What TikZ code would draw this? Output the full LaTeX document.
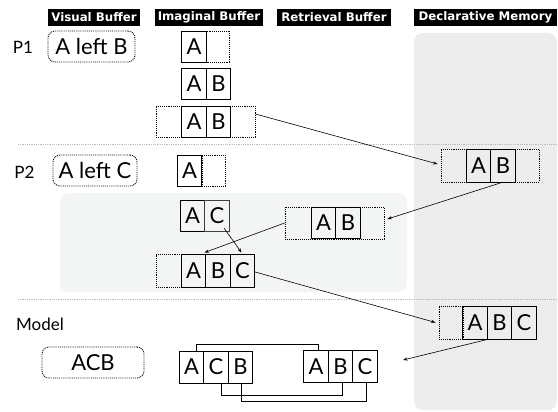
\documentclass[tikz,border=0pt]{standalone}
\usepackage{fontspec}
\setmainfont{Lato}
\newfontfamily\hdrfont{DejaVu Sans}
\usetikzlibrary{arrows.meta}
\definecolor{dmgrey}{HTML}{EDEDED}
\definecolor{ptwo}{HTML}{F3F4F4}
\definecolor{sepgrey}{HTML}{BBBBBB}
\tikzset{
  hdr/.style={fill=black, text=white, inner sep=0pt, minimum height=17pt, font=\hdrfont\bfseries\fontsize{11.8}{13}\selectfont},
  cell/.style={draw=black, line width=0.9pt, minimum width=24.5pt, minimum height=31pt, inner sep=0pt, font=\fontsize{22}{25}\selectfont},
  emptycell/.style={draw=black, densely dotted, line width=0.9pt, minimum width=24pt, minimum height=31pt, inner sep=0pt},
  outerbox/.style={draw=black, densely dotted, line width=0.9pt, minimum height=31pt, inner sep=0pt},
  visbox/.style={draw=black, densely dotted, line width=0.9pt, rounded corners=7pt, minimum height=31pt, inner sep=0pt, font=\fontsize{22}{25}\selectfont},
  lbl/.style={font=\fontsize{17}{20}\selectfont, inner sep=0pt},
  arr/.style={-{Stealth[length=4.5pt,width=3.2pt]}, line width=0.6pt},
  sep/.style={sepgrey, densely dotted, line width=0.8pt},
  link/.style={line width=0.9pt}
}
\begin{document}
\begin{tikzpicture}[x=1pt,y=-1pt]
\useasboundingbox (0,0) rectangle (558,412);
% panels
\fill[dmgrey, rounded corners=9pt] (414,33) rectangle (557,410);
\fill[ptwo, rounded corners=9pt] (60,193) rectangle (407,292);
% separators
\coordinate (s1a) at (18,144); \coordinate (s1b) at (558,144);
\coordinate (s2a) at (18,299); \coordinate (s2b) at (558,299);
\draw[sep] (s1a) -- (s1b);
\draw[sep] (s2a) -- (s2b);
% headers
\node[hdr, minimum width=92pt] (hv) at (94,17.5) {Visual Buffer};
\node[hdr, minimum width=108pt] (hi) at (209,17.5) {Imaginal Buffer};
\node[hdr, minimum width=114pt] (hr) at (334,17.5) {Retrieval Buffer};
\node[hdr, minimum width=143pt] (hd) at (485.5,17.5) {Declarative Memory};
% P1
\node[lbl] (p1) at (23,47) {P1};
\node[visbox, minimum width=87pt] (v1) at (91.5,46.5) {A left B};
\node[cell] (i1a) at (194,46.5) {A};
\node[emptycell, minimum width=23pt] (i1e) at (218,46.5) {};
\node[cell] (i2a) at (194,84) {A};
\node[cell] (i2b) at (218.5,84) {B};
\node[outerbox, minimum width=99pt] (r3) at (205.5,121.5) {};
\node[cell] (i3a) at (194,121.5) {A};
\node[cell] (i3b) at (218.5,121.5) {B};
% P2
\node[lbl] (p2) at (24.5,172) {P2};
\node[visbox, minimum width=84pt] (v2) at (95,170.5) {A left C};
\node[cell] (j1a) at (189.5,170.5) {A};
\node[emptycell, minimum width=23pt] (j1e) at (213.5,170.5) {};
\node[cell] (aca) at (192.5,216) {A};
\node[cell, draw=black!75] (acc) at (217,216) {C};
\node[outerbox, minimum width=99pt, minimum height=32pt] (rt) at (334.5,223) {};
\node[cell] (rta) at (323.5,223) {A};
\node[cell] (rtb) at (348,223) {B};
\node[emptycell, minimum width=25pt, minimum height=33pt] (xe) at (168.5,270.5) {};
\node[cell, minimum height=33pt] (xa) at (193.5,270.5) {A};
\node[cell, minimum height=33pt] (xb) at (218,270.5) {B};
\node[cell, minimum height=33pt] (xc) at (242.5,270.5) {C};
% Declarative P2
\node[outerbox, minimum width=98pt, minimum height=33pt] (dp2) at (490,165.5) {};
\node[cell, minimum height=33pt] (dpa) at (478.5,165.5) {A};
\node[cell, minimum height=33pt] (dpb) at (503,165.5) {B};
% Model
\node[lbl] (mdl) at (40,324) {Model};
\node[visbox, minimum width=102pt] (vm) at (93,362.5) {ACB};
\node[cell, minimum height=32pt] (ma1) at (191.5,367) {A};
\node[cell, minimum height=32pt] (mc1) at (216,367) {C};
\node[cell, minimum height=32pt] (mb1) at (240.5,367) {B};
\node[cell, minimum height=32pt] (ma2) at (316,366.5) {A};
\node[cell, minimum height=32pt] (mb2) at (340.5,366.5) {B};
\node[cell, minimum height=32pt] (mc2) at (365,366.5) {C};
% Declarative model
\node[emptycell, minimum width=24pt, minimum height=33pt] (dme) at (451,322.5) {};
\node[cell, minimum height=33pt] (dma) at (475,322.5) {A};
\node[cell, minimum height=33pt] (dmb) at (499.5,322.5) {B};
\node[cell, minimum height=33pt] (dmc) at (524,322.5) {C};
% model links
\draw[link] ([xshift=4.5pt]ma1.north) -- ++(0,-6) -| ([xshift=2pt]ma2.north);
\draw[link] ([xshift=5pt]mc1.south) -- ++(0,12) -| ([xshift=1.5pt]mb2.south);
\draw[link] ([xshift=0.5pt]mb1.south) -- ++(0,18) -| ([xshift=1pt]mc2.south);
% arrows
\coordinate (end6) at (403,360);
\draw[arr] ([yshift=7.5pt]r3.east) -- ([xshift=-3pt,yshift=1.5pt]dp2.west);
\draw[arr] ([xshift=-1pt]dpb.south) -- ([xshift=3pt,yshift=4pt]rt.east);
\draw[arr] (rt.west) -- ([xshift=11pt,yshift=1pt]xa.north);
\draw[arr] ([xshift=7pt,yshift=-12pt]acc.center) -- ([xshift=-1pt,yshift=1pt]xc.north);
\draw[arr] ([yshift=-1.5pt]xc.east) -- ([xshift=-3pt]dme.west);
\draw[arr] ([xshift=-12pt]dmb.south) -- (end6);
\end{tikzpicture}
\end{document}
